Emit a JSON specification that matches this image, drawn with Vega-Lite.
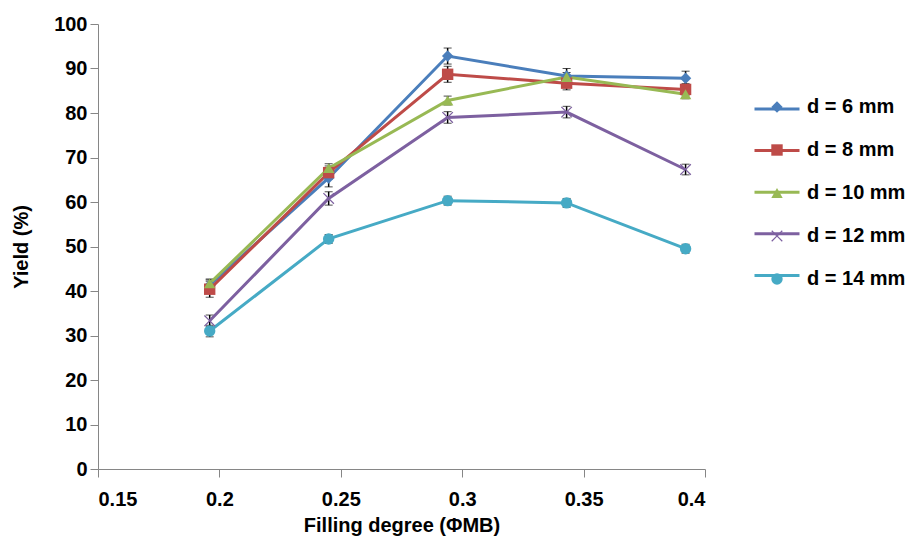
{
  "$schema": "https://vega.github.io/schema/vega-lite/v6.json",
  "width": 607,
  "height": 445,
  "autosize": "none",
  "padding": {"left": 98, "top": 24, "right": 219, "bottom": 76},
  "background": "white",
  "config": {
    "font": "Liberation Sans",
    "view": {"stroke": null},
    "axis": {
      "grid": false,
      "domainColor": "#868686",
      "tickColor": "#868686",
      "labelFont": "Liberation Sans",
      "labelFontWeight": "bold",
      "labelFontSize": 20,
      "labelColor": "#000000",
      "titleFont": "Liberation Sans",
      "titleFontWeight": "bold",
      "titleFontSize": 20,
      "titleColor": "#000000",
      "tickSize": 8
    },
    "legend": {
      "title": null,
      "orient": "none",
      "labelFont": "Liberation Sans",
      "labelFontWeight": "bold",
      "labelFontSize": 20,
      "labelColor": "#000000"
    }
  },
  "data": {
    "values": [
      {"series": "d = 6 mm", "phi": 0.196, "yield": 41.3, "err": 1.2},
      {"series": "d = 6 mm", "phi": 0.245, "yield": 65.4, "err": 2.0},
      {"series": "d = 6 mm", "phi": 0.294, "yield": 92.8, "err": 1.8},
      {"series": "d = 6 mm", "phi": 0.343, "yield": 88.3, "err": 1.7},
      {"series": "d = 6 mm", "phi": 0.392, "yield": 87.8, "err": 1.6},
      {"series": "d = 8 mm", "phi": 0.196, "yield": 40.4, "err": 1.8},
      {"series": "d = 8 mm", "phi": 0.245, "yield": 66.6, "err": 1.5},
      {"series": "d = 8 mm", "phi": 0.294, "yield": 88.7, "err": 1.8},
      {"series": "d = 8 mm", "phi": 0.343, "yield": 86.7, "err": 1.5},
      {"series": "d = 8 mm", "phi": 0.392, "yield": 85.3, "err": 1.3},
      {"series": "d = 10 mm", "phi": 0.196, "yield": 41.7, "err": 1.0},
      {"series": "d = 10 mm", "phi": 0.245, "yield": 67.6, "err": 1.0},
      {"series": "d = 10 mm", "phi": 0.294, "yield": 82.8, "err": 1.0},
      {"series": "d = 10 mm", "phi": 0.343, "yield": 88.1, "err": 1.0},
      {"series": "d = 10 mm", "phi": 0.392, "yield": 84.2, "err": 1.0},
      {"series": "d = 12 mm", "phi": 0.196, "yield": 33.3, "err": 1.3},
      {"series": "d = 12 mm", "phi": 0.245, "yield": 60.8, "err": 1.5},
      {"series": "d = 12 mm", "phi": 0.294, "yield": 79.0, "err": 1.3},
      {"series": "d = 12 mm", "phi": 0.343, "yield": 80.2, "err": 1.3},
      {"series": "d = 12 mm", "phi": 0.392, "yield": 67.3, "err": 1.2},
      {"series": "d = 14 mm", "phi": 0.196, "yield": 31.0, "err": 1.3},
      {"series": "d = 14 mm", "phi": 0.245, "yield": 51.7, "err": 1.0},
      {"series": "d = 14 mm", "phi": 0.294, "yield": 60.3, "err": 1.0},
      {"series": "d = 14 mm", "phi": 0.343, "yield": 59.8, "err": 1.0},
      {"series": "d = 14 mm", "phi": 0.392, "yield": 49.5, "err": 1.0}
    ]
  },
  "encoding": {
    "x": {
      "field": "phi", "type": "quantitative",
      "scale": {"domain": [0.15, 0.4], "nice": false, "zero": false},
      "axis": {"values": [0.15, 0.2, 0.25, 0.3, 0.35, 0.4], "format": "~g", "title": "Filling degree (ΦMB)", "labelPadding": 12, "titlePadding": 6}
    },
    "y": {
      "field": "yield", "type": "quantitative",
      "scale": {"domain": [0, 100], "nice": false},
      "axis": {"values": [0, 10, 20, 30, 40, 50, 60, 70, 80, 90, 100], "title": "Yield (%)", "labelPadding": 3, "titlePadding": 22}
    }
  },
  "layer": [
    {
      "mark": {"type": "errorbar", "ticks": {"size": 8, "color": "#000000", "strokeWidth": 2}, "rule": {"color": "#000000", "strokeWidth": 1.5}},
      "encoding": {
        "yError": {"field": "err"},
        "detail": {"field": "series"}
      }
    },
    {
      "mark": {"type": "line", "strokeWidth": 3},
      "encoding": {
        "stroke": {
          "field": "series", "type": "nominal",
          "sort": ["d = 6 mm", "d = 8 mm", "d = 10 mm", "d = 12 mm", "d = 14 mm"],
          "scale": {"range": ["#4A7EBB", "#BE4B48", "#98B954", "#7D60A0", "#46AAC5"]},
          "legend": {
            "legendX": 655,
            "legendY": 61,
            "symbolType": "stroke",
            "symbolSize": 2025,
            "symbolStrokeWidth": 3,
            "rowPadding": 7.6,
            "labelExpr": "''",
            "labelOffset": 0
          }
        }
      }
    },
    {
      "mark": {"type": "point", "filled": true, "opacity": 1, "size": 130},
      "encoding": {
        "color": {
          "field": "series", "type": "nominal",
          "scale": {"domain": ["d = 6 mm", "d = 8 mm", "d = 10 mm", "d = 12 mm", "d = 14 mm"], "range": ["#4A7EBB", "#BE4B48", "#98B954", "#7D60A0", "#46AAC5"]},
          "legend": {
            "legendX": 669,
            "legendY": 73,
            "symbolSize": 130,
            "symbolStrokeWidth": 0,
            "rowPadding": 23,
            "labelOffset": 20
          }
        },
        "shape": {
          "field": "series", "type": "nominal",
          "scale": {"domain": ["d = 6 mm", "d = 8 mm", "d = 10 mm", "d = 12 mm", "d = 14 mm"], "range": ["diamond", "square", "triangle-up", "M-0.85,-1L0,-0.15L0.85,-1L1,-0.85L0.15,0L1,0.85L0.85,1L0,0.15L-0.85,1L-1,0.85L-0.15,0L-1,-0.85Z", "circle"]}
        }
      }
    }
  ]
}
